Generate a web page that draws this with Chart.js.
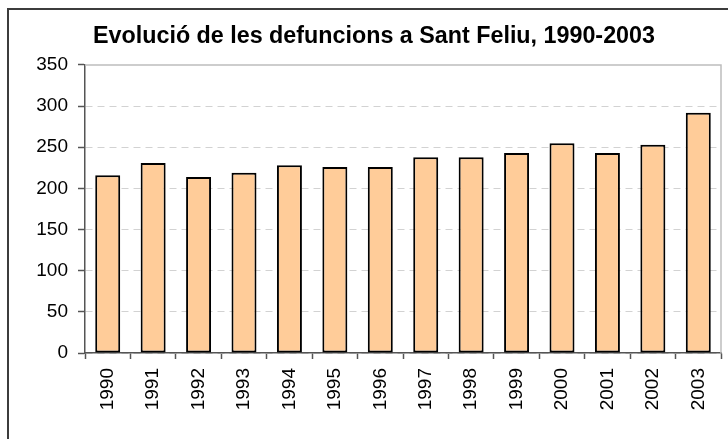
<!DOCTYPE html>
<html>
<head>
<meta charset="utf-8">
<script src="https://cdn.jsdelivr.net/npm/chart.js@4"></script>
<style>
  html, body { margin: 0; padding: 0; background: #fff; overflow: hidden; }
  #wrap { position: absolute; left: 0; top: 0; width: 748px; height: 439px; }
</style>
</head>
<body>
<div id="wrap"><canvas id="deathsChart" width="748" height="439"></canvas></div>
<script>
const years = ['1990', '1991', '1992', '1993', '1994', '1995', '1996',
  '1997', '1998', '1999', '2000', '2001', '2002', '2003'];
const deaths = [216, 231, 214, 219, 228, 226, 226, 238, 238, 243, 255, 243, 253, 292];
const yMin = 0;
const yMax = 350;
const yStep = 50;

const FONT = "'Liberation Sans', Arial, sans-serif";

// outer chart frame plus the grey top/right edge of the plot area
const framePlugin = {
  id: 'frame',
  beforeDraw: (chart) => {
    const ctx = chart.ctx;
    ctx.save();
    ctx.fillStyle = '#fff';
    ctx.fillRect(0, 0, chart.width, chart.height);
    ctx.strokeStyle = '#3c3c3c';
    ctx.lineWidth = 2;
    ctx.strokeRect(8, 9, chart.width + 20, chart.height + 20);
    ctx.restore();
  },
  beforeDatasetsDraw: (chart) => {
    const { ctx, chartArea } = chart;
    ctx.save();
    ctx.strokeStyle = '#bdbdbd';
    ctx.lineWidth = 1.5;
    ctx.beginPath();
    ctx.moveTo(chartArea.left, chartArea.top);
    ctx.lineTo(chartArea.right, chartArea.top);
    ctx.lineTo(chartArea.right, chartArea.bottom);
    ctx.stroke();
    ctx.restore();
  },
};

new Chart(document.getElementById('deathsChart'), {
  type: 'bar',
  data: {
    labels: years,
    datasets: [
      {
        label: 'Defuncions',
        data: deaths,
        backgroundColor: '#ffcc99',
        borderColor: '#000',
        borderWidth: 2,
        borderSkipped: false,
        barPercentage: 0.55,
        categoryPercentage: 1,
      },
    ],
  },
  options: {
    responsive: false,
    animation: false,
    layout: { padding: 0 },
    plugins: {
      legend: { display: false },
      tooltip: { enabled: false },
      title: {
        display: true,
        text: 'Evolució de les defuncions a Sant Feliu, 1990-2003',
        color: '#000',
        font: { family: FONT, size: 23.3, weight: 'bold' },
        padding: { top: 23, bottom: 14 },
      },
    },
    scales: {
      x: {
        afterFit: (scale) => { scale.height = 86; },
        grid: {
          offset: true,
          drawOnChartArea: false,
          drawTicks: true,
          tickLength: 6,
          tickColor: '#555',
          tickWidth: 1.5,
        },
        border: { display: true, color: '#555', width: 1.5 },
        ticks: {
          color: '#000',
          font: { family: FONT, size: 19 },
          minRotation: 90,
          maxRotation: 90,
          padding: 9,
          autoSkip: false,
        },
      },
      y: {
        min: yMin,
        max: yMax,
        afterFit: (scale) => { scale.width = 85; },
        grid: {
          color: (c) => (c.tick && c.tick.value === yMax ? 'rgba(0,0,0,0)' : '#d2d2d2'),
          lineWidth: 1,
          drawTicks: true,
          tickLength: 7,
          tickColor: '#555',
          tickWidth: 1.5,
        },
        border: { display: true, color: '#555', width: 1.5, dash: [7, 5] },
        ticks: {
          stepSize: yStep,
          color: '#000',
          font: { family: FONT, size: 19 },
          padding: 10,
        },
      },
      // empty right-hand axis, only reserves the margin right of the plot
      yRight: {
        position: 'right',
        min: yMin,
        max: yMax,
        afterFit: (scale) => { scale.width = 27; },
        grid: { display: false },
        border: { display: false },
        ticks: { display: false },
      },
    },
  },
  plugins: [framePlugin],
});
</script>
</body>
</html>
